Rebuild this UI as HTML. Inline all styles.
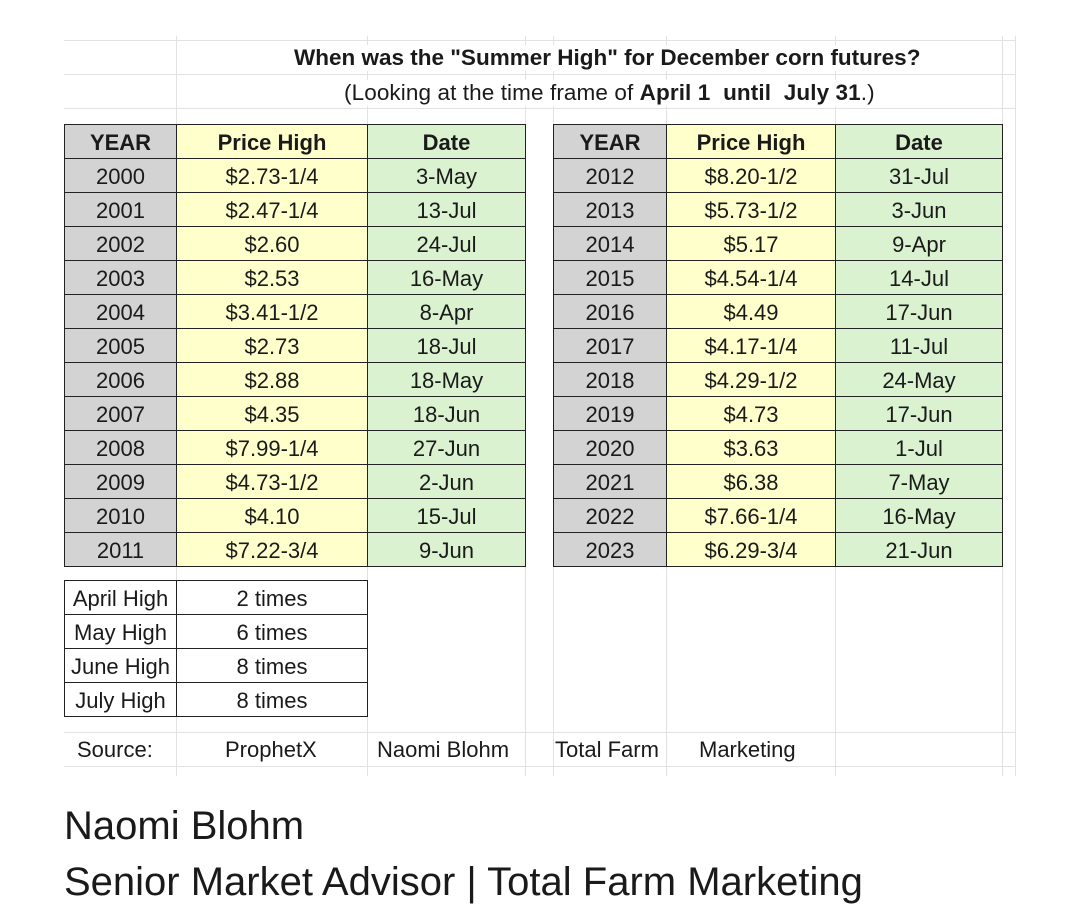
<!DOCTYPE html>
<html><head><meta charset="utf-8"><style>
body{margin:0;width:1080px;height:912px;background:#fff;font-family:"Liberation Sans",sans-serif;position:relative;overflow:hidden;color:#1a1a1a}
.g{position:absolute;background:#e2e2e2}
.t{position:absolute;border-collapse:collapse;table-layout:fixed;font-size:22px}
.t td{border:1px solid #222;height:30px;padding:3px 0 0 0;text-align:center;line-height:30px;overflow:hidden;white-space:nowrap}
.t tr:first-child td{font-weight:bold}
.y{background:#d3d3d3}.p{background:#ffffcc}.d{background:#daf2d0}
.tx{position:absolute;white-space:nowrap}
</style></head><body>
<div class="g" style="left:64px;top:40px;width:952px;height:1px"></div>
<div class="g" style="left:64px;top:74px;width:952px;height:1px"></div>
<div class="g" style="left:64px;top:108px;width:952px;height:1px"></div>
<div class="g" style="left:64px;top:732px;width:952px;height:1px"></div>
<div class="g" style="left:64px;top:766px;width:952px;height:1px"></div>
<div class="g" style="left:176px;top:36px;width:1px;height:740px"></div>
<div class="g" style="left:367px;top:36px;width:1px;height:740px"></div>
<div class="g" style="left:525px;top:36px;width:1px;height:740px"></div>
<div class="g" style="left:553px;top:36px;width:1px;height:740px"></div>
<div class="g" style="left:666px;top:36px;width:1px;height:740px"></div>
<div class="g" style="left:835px;top:36px;width:1px;height:740px"></div>
<div class="g" style="left:1002px;top:36px;width:1px;height:740px"></div>
<div class="g" style="left:1015px;top:36px;width:1px;height:740px"></div>

<div class="tx" style="left:294px;top:45px;font-size:22.5px;font-weight:bold;background:#fff">When was the "Summer High" for December corn futures?</div>
<div class="tx" style="left:344px;top:80px;font-size:22.5px;letter-spacing:0.1px;background:#fff">(Looking at the time frame of <b>April 1&nbsp; until&nbsp; July 31</b>.)</div>

<table class="t" style="left:64px;top:124px;width:462px">
<colgroup><col style="width:112px"><col style="width:191px"><col style="width:158px"></colgroup>
<tr><td class="y">YEAR</td><td class="p">Price High</td><td class="d">Date</td></tr>
<tr><td class="y">2000</td><td class="p">$2.73-1/4</td><td class="d">3-May</td></tr>
<tr><td class="y">2001</td><td class="p">$2.47-1/4</td><td class="d">13-Jul</td></tr>
<tr><td class="y">2002</td><td class="p">$2.60</td><td class="d">24-Jul</td></tr>
<tr><td class="y">2003</td><td class="p">$2.53</td><td class="d">16-May</td></tr>
<tr><td class="y">2004</td><td class="p">$3.41-1/2</td><td class="d">8-Apr</td></tr>
<tr><td class="y">2005</td><td class="p">$2.73</td><td class="d">18-Jul</td></tr>
<tr><td class="y">2006</td><td class="p">$2.88</td><td class="d">18-May</td></tr>
<tr><td class="y">2007</td><td class="p">$4.35</td><td class="d">18-Jun</td></tr>
<tr><td class="y">2008</td><td class="p">$7.99-1/4</td><td class="d">27-Jun</td></tr>
<tr><td class="y">2009</td><td class="p">$4.73-1/2</td><td class="d">2-Jun</td></tr>
<tr><td class="y">2010</td><td class="p">$4.10</td><td class="d">15-Jul</td></tr>
<tr><td class="y">2011</td><td class="p">$7.22-3/4</td><td class="d">9-Jun</td></tr>
</table>

<table class="t" style="left:553px;top:124px;width:450px">
<colgroup><col style="width:113px"><col style="width:169px"><col style="width:167px"></colgroup>
<tr><td class="y">YEAR</td><td class="p">Price High</td><td class="d">Date</td></tr>
<tr><td class="y">2012</td><td class="p">$8.20-1/2</td><td class="d">31-Jul</td></tr>
<tr><td class="y">2013</td><td class="p">$5.73-1/2</td><td class="d">3-Jun</td></tr>
<tr><td class="y">2014</td><td class="p">$5.17</td><td class="d">9-Apr</td></tr>
<tr><td class="y">2015</td><td class="p">$4.54-1/4</td><td class="d">14-Jul</td></tr>
<tr><td class="y">2016</td><td class="p">$4.49</td><td class="d">17-Jun</td></tr>
<tr><td class="y">2017</td><td class="p">$4.17-1/4</td><td class="d">11-Jul</td></tr>
<tr><td class="y">2018</td><td class="p">$4.29-1/2</td><td class="d">24-May</td></tr>
<tr><td class="y">2019</td><td class="p">$4.73</td><td class="d">17-Jun</td></tr>
<tr><td class="y">2020</td><td class="p">$3.63</td><td class="d">1-Jul</td></tr>
<tr><td class="y">2021</td><td class="p">$6.38</td><td class="d">7-May</td></tr>
<tr><td class="y">2022</td><td class="p">$7.66-1/4</td><td class="d">16-May</td></tr>
<tr><td class="y">2023</td><td class="p">$6.29-3/4</td><td class="d">21-Jun</td></tr>
</table>

<table class="t" style="left:64px;top:580px;width:304px;background:#fff">
<colgroup><col style="width:112px"><col style="width:191px"></colgroup>
<tr><td style="font-weight:normal">April High</td><td style="font-weight:normal">2 times</td></tr>
<tr><td>May High</td><td>6 times</td></tr>
<tr><td>June High</td><td>8 times</td></tr>
<tr><td>July High</td><td>8 times</td></tr>
</table>

<div class="tx" style="left:77px;top:737px;font-size:22px">Source:</div>
<div class="tx" style="left:225px;top:737px;font-size:22px">ProphetX</div>
<div class="tx" style="left:377px;top:737px;font-size:22px">Naomi Blohm</div>
<div class="tx" style="left:555px;top:737px;font-size:22px">Total Farm</div>
<div class="tx" style="left:699px;top:737px;font-size:22px">Marketing</div>

<div class="tx" style="left:64px;top:804px;font-size:40px">Naomi Blohm</div>
<div class="tx" style="left:64px;top:860px;font-size:40px">Senior Market Advisor | Total Farm Marketing</div>
</body></html>
